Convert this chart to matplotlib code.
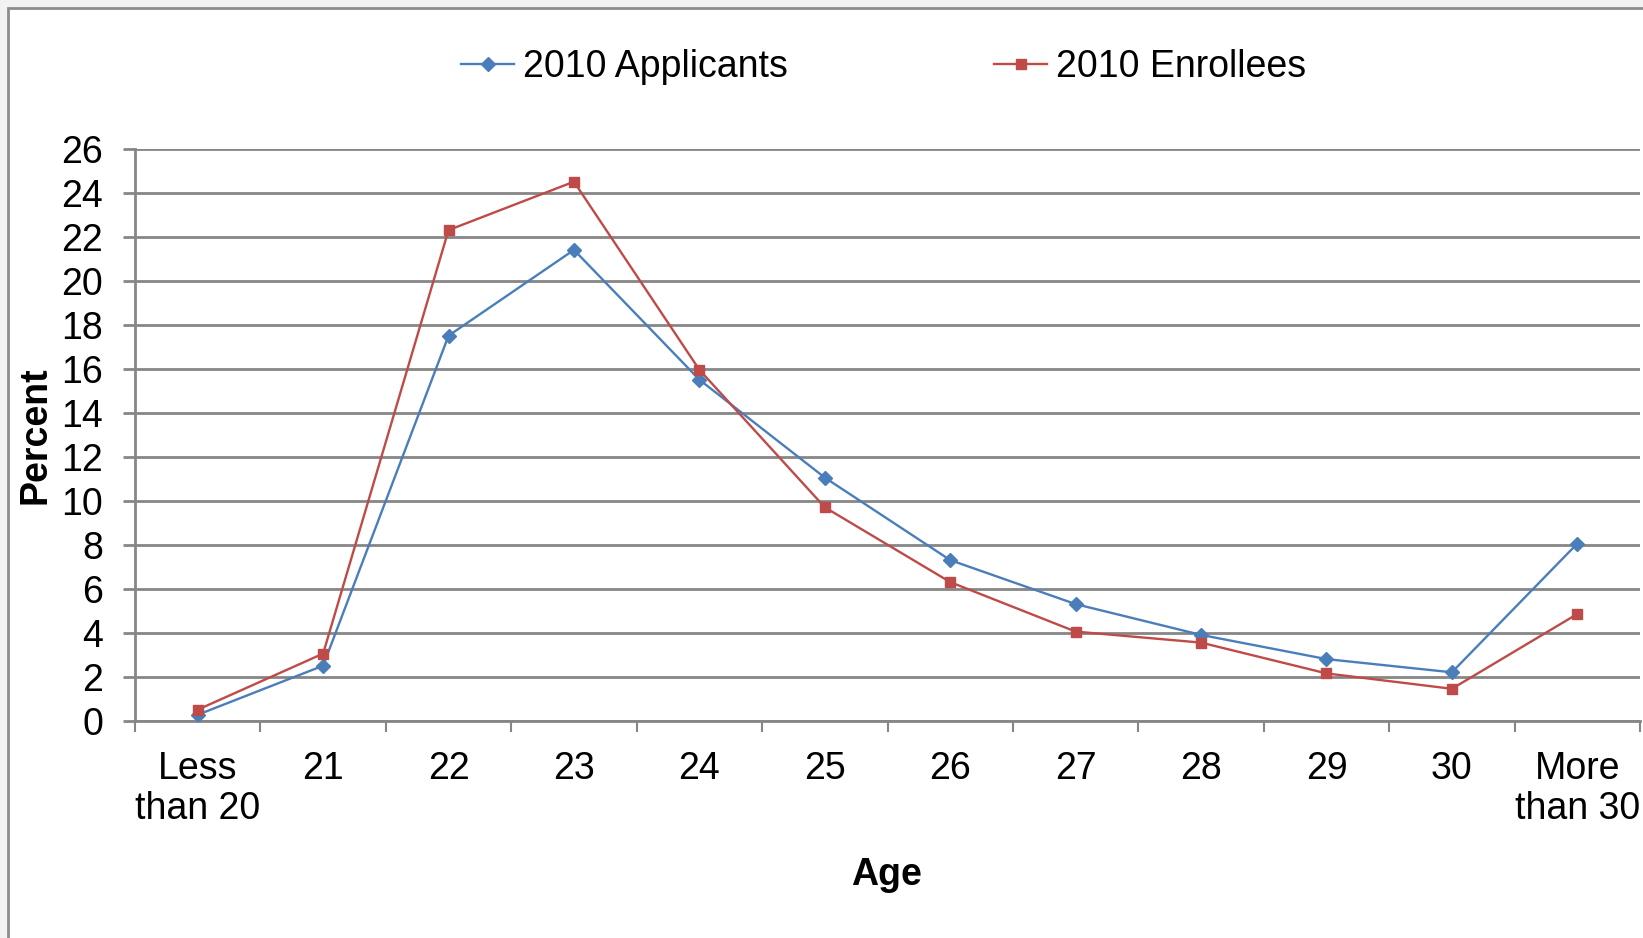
import matplotlib.pyplot as plt
from matplotlib.patches import Rectangle

# Age categories and percentages
ages = ["Less\nthan 20", "21", "22", "23", "24", "25", "26", "27", "28", "29", "30", "More\nthan 30"]
applicants = [0.27, 2.5, 17.5, 21.4, 15.5, 11.05, 7.3, 5.3, 3.9, 2.8, 2.2, 8.05]
enrollees = [0.5, 3.05, 22.3, 24.5, 15.95, 9.7, 6.3, 4.05, 3.55, 2.15, 1.45, 4.85]

plt.rcParams['font.family'] = ['Liberation Sans', 'DejaVu Sans']

fig = plt.figure(figsize=(16.43, 9.38), dpi=100)
fig.patch.set_facecolor('#f2f2f2')

# chart area frame (cropped at right and bottom)
W, H = 1643, 938
fig.patches.append(Rectangle((8 / W, -0.05), 1.1, 1 - 8 / H + 0.05, transform=fig.transFigure,
                             facecolor='white', edgecolor='#8c8c8c', linewidth=2, zorder=-10))

ax = fig.add_axes([135 / W, (938 - 720.7) / H, (1640 - 135) / W, (720.7 - 148.7) / H])
ax.set_facecolor('white')

x = list(range(len(ages)))
ax.plot(x, applicants, color='#4a7ebb', linewidth=1.7, marker='D', markersize=7,
        markerfacecolor='#4a7ebb', markeredgecolor='#4a7ebb', label='2010 Applicants', zorder=3)
ax.plot(x, enrollees, color='#be4b48', linewidth=1.7, marker='s', markersize=6.5,
        markerfacecolor='#be4b48', markeredgecolor='#be4b48', label='2010 Enrollees', zorder=3)

ax.set_xlim(-0.5, 11.5)
ax.set_ylim(0, 26)
ax.set_yticks(range(0, 27, 2))
ax.yaxis.grid(True, color='#868686', linewidth=2)
ax.set_axisbelow(True)

ax.set_xticks(x)
ax.set_xticklabels(ages, fontsize=27, linespacing=1.15)
ax.set_xticks([i - 0.5 for i in range(len(ages) + 1)], minor=True)
ax.tick_params(axis='x', which='major', length=0, pad=22)
ax.tick_params(axis='x', which='minor', length=8, width=1.5, color='#868686', direction='out')
ax.tick_params(axis='y', labelsize=27, length=9, width=2, color='#868686', pad=14)

for side in ['top', 'right']:
    ax.spines[side].set_visible(False)
ax.spines['left'].set_color('#868686')
ax.spines['left'].set_linewidth(2)
ax.spines['bottom'].set_color('#868686')
ax.spines['bottom'].set_linewidth(2)

ax.set_ylabel("Percent", fontsize=27, fontweight='bold')
ax.yaxis.set_label_coords(-81 / (1640 - 135), 0.5)
fig.text(886 / W, 1 - 875 / H, "Age", fontsize=27, fontweight='bold', ha='center', va='center')

leg = fig.legend(loc='center', bbox_to_anchor=(884 / W, 1 - 67 / H), ncol=2, frameon=False,
                 fontsize=27, handlelength=1.4, handletextpad=0.25, columnspacing=5.5)

fig.savefig("out.png", dpi=100, facecolor=fig.get_facecolor())
